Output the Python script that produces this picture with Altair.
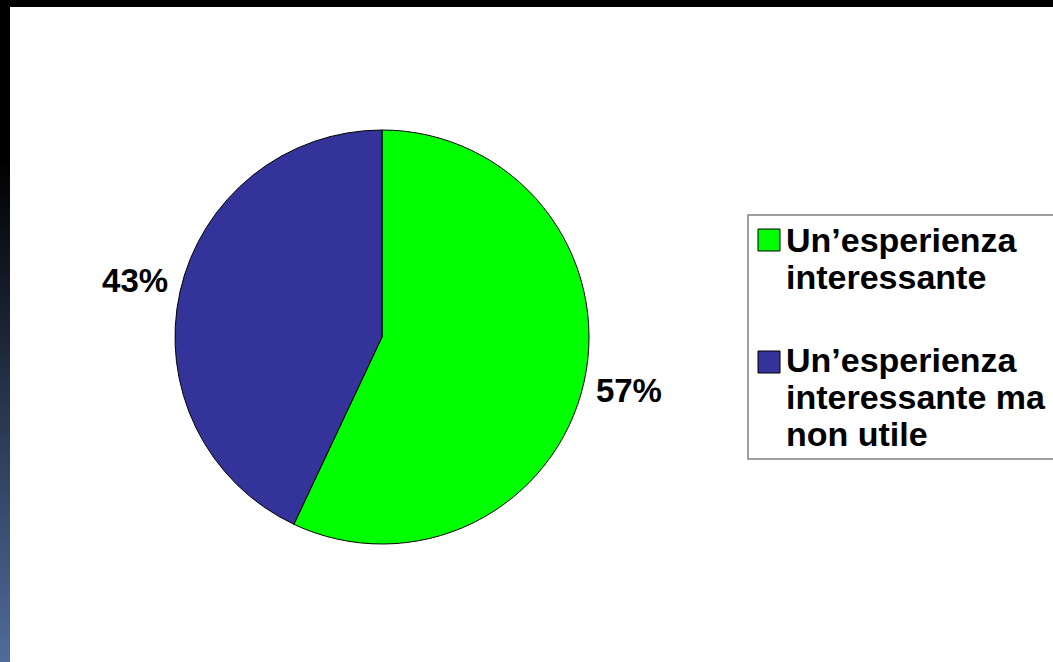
import altair as alt
import pandas as pd

# ---- data ----
categories = ["Un’esperienza interessante", "Un’esperienza interessante ma non utile"]
legend_lines = ["Un’esperienza\ninteressante", "Un’esperienza\ninteressante ma\nnon utile"]
values = [57, 43]
labels = ["57%", "43%"]
colors = ["#00FF00", "#333399"]

df = pd.DataFrame({
    "category": categories,
    "value": values,
    "label": labels,
    "order": [0, 1],
    "legend_text": legend_lines,
    "row": [0, 1],
})

W, H = 1053, 662
CX, CY, R = 382, 337, 207
FONT = "Liberation Sans"

color_scale = alt.Scale(domain=categories, range=colors)

# background decorations
one = pd.DataFrame({"a": [0]})
top_strip = alt.Chart(one).mark_rect(color="black").encode(
    x=alt.value(0), x2=alt.value(W), y=alt.value(0), y2=alt.value(7)
)
left_strip = alt.Chart(one).mark_rect(
    color=alt.Gradient(
        gradient="linear",
        stops=[
            alt.GradientStop(offset=0, color="#000000"),
            alt.GradientStop(offset=0.24, color="#000000"),
            alt.GradientStop(offset=1, color="#506b9c"),
        ],
        x1=0, x2=0, y1=0, y2=1,
    )
).encode(x=alt.value(0), x2=alt.value(10), y=alt.value(0), y2=alt.value(H))

pie = alt.Chart(df).mark_arc(outerRadius=R, stroke="black", strokeWidth=1).encode(
    theta=alt.Theta("value:Q", stack=True),
    color=alt.Color("category:N", scale=color_scale, legend=None),
    order=alt.Order("order:Q"),
    x=alt.value(CX),
    y=alt.value(CY),
)

pct = alt.Chart(df).mark_text(
    radius=253, fontSize=33, fontWeight="bold", font=FONT, color="black",
    align="center", baseline="middle",
).encode(
    theta=alt.Theta("value:Q", stack=True),
    order=alt.Order("order:Q"),
    text="label:N",
    x=alt.value(CX),
    y=alt.value(CY),
)

# legend box
legend_box = alt.Chart(one).mark_rect(fill="white", stroke="#808080", strokeWidth=1.5).encode(
    x=alt.value(748), x2=alt.value(W + 20), y=alt.value(215), y2=alt.value(459)
)

sq_scale = alt.Scale(domain=[0, 1], range=[240, 362])
legend_sq = alt.Chart(df).mark_square(size=484, filled=True, stroke="black", strokeWidth=1, opacity=1).encode(
    x=alt.value(769),
    y=alt.Y("row:Q", scale=sq_scale, axis=None),
    color=alt.Color("category:N", scale=color_scale, legend=None),
)

txt_scale = alt.Scale(domain=[0, 1], range=[252, 372])
legend_txt = alt.Chart(df).mark_text(
    align="left", baseline="alphabetic", lineBreak="\n", lineHeight=37,
    fontSize=34, fontWeight="bold", font=FONT, color="black",
).encode(
    x=alt.value(786),
    y=alt.Y("row:Q", scale=txt_scale, axis=None),
    text="legend_text:N",
)

legend_layer = alt.layer(legend_sq, legend_txt).resolve_scale(y="independent")

chart = alt.layer(
    top_strip, left_strip, pie, pct, legend_box, legend_layer
).properties(
    width=W, height=H, background="white", padding=0,
    autosize=alt.AutoSizeParams(type="none"),
).configure_view(stroke=None)

chart.save("out.html", embed_options={"renderer": "svg", "actions": False})
